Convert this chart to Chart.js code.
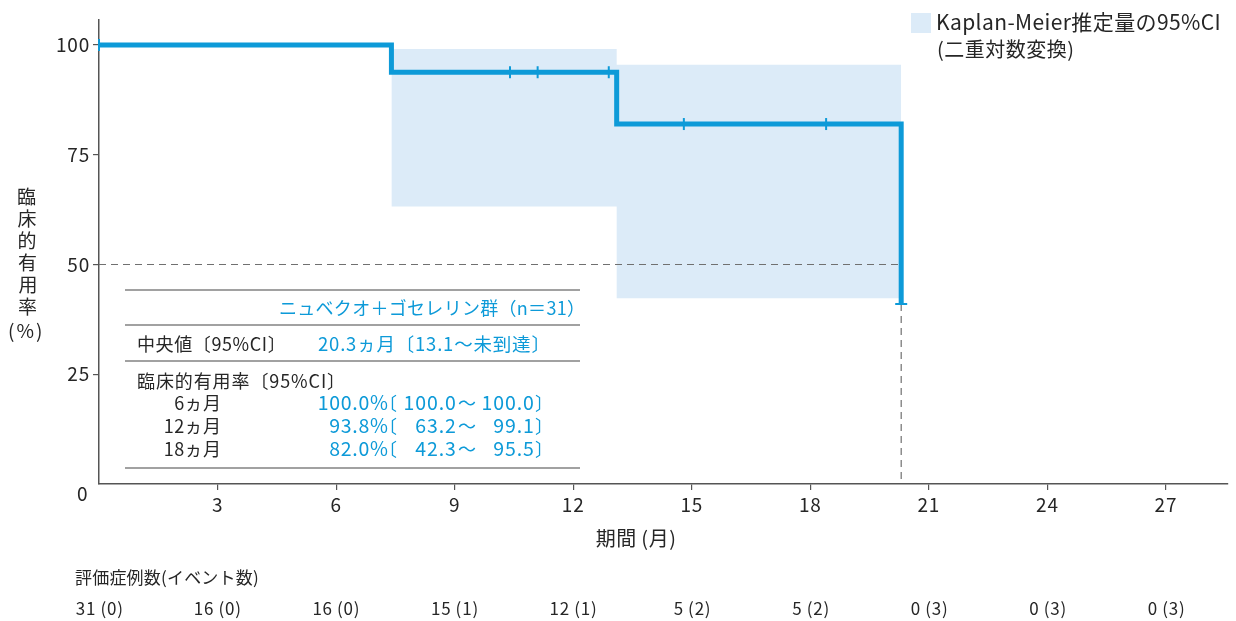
<!DOCTYPE html>
<html>
<head>
<meta charset="utf-8">
<script src="https://cdn.jsdelivr.net/npm/chart.js@4.4.1/dist/chart.umd.min.js"></script>
<style>
  html, body { margin: 0; padding: 0; background: #ffffff; }
  #wrap { width: 1236px; height: 621px; position: relative; }
  canvas { display: block; }
</style>
</head>
<body>
<div id="wrap"><canvas id="c" width="1236" height="621"></canvas></div>
<script>
// Kaplan-Meier estimate (step function, months / %)
const kmTimes = [0, 7.4, 13.1, 20.3];
const kmValues = [100, 93.8, 82.0, 41.0];

// Censored observations
const censorTimes = [0, 10.4, 11.1, 12.9, 14.8, 18.4, 20.3];
const censorValues = [100, 93.8, 93.8, 93.8, 82.0, 82.0, 41.0];

// 95% CI band (log-log transform)
const ciTimes = [7.4, 13.1, 20.3];
const ciUpper = [99.1, 95.5, 95.5];
const ciLower = [63.2, 42.3, 42.3];

// Median reference
const medianTime = 20.3;
const medianLevel = 50;

// Axes
const xTickValues = [3, 6, 9, 12, 15, 18, 21, 24, 27];
const yTickValues = [25, 50, 75, 100];

// Number at risk (events)
const atRiskTimes = [0, 3, 6, 9, 12, 15, 18, 21, 24, 27];
const atRiskLabels = ['31\u2009(0)', '16\u2009(0)', '16\u2009(0)', '15\u2009(1)', '12\u2009(1)', '5\u2009(2)', '5\u2009(2)', '0\u2009(3)', '0\u2009(3)', '0\u2009(3)'];

// Summary table
const groupLabel = 'ニュベクオ＋ゴセレリン群（n＝31）';
const medianLabel = '中央値〔95%CI〕';
const medianText = '20.3ヵ月〔13.1〜未到達〕';
const rateHeader = '臨床的有用率〔95%CI〕';
const rateLabels = ['6ヵ月', '12ヵ月', '18ヵ月'];
const ratePct = ['100.0%', '93.8%', '82.0%'];
const rateLow = ['100.0', '63.2', '42.3'];
const rateHigh = ['100.0', '99.1', '95.5'];

const BLUE = '#0d9ad8';
const BAND = '#dcebf8';
const TEXT = '#262626';
const AXIS = '#555555';
const FAMILY = '"Noto Sans CJK JP", "Noto Sans", sans-serif';
const font = (size) => size + 'px ' + FAMILY;

const pts = (xs, ys) => xs.map((x, i) => ({ x: x, y: ys[i] }));

// draw text positioned by its ink box rather than its advance box
function inkText(ctx, text, x, y, align, spacing) {
  ctx.letterSpacing = (spacing || 0) + 'px';
  ctx.textAlign = 'left';
  const m = ctx.measureText(text);
  const left = -m.actualBoundingBoxLeft;
  const right = m.actualBoundingBoxRight;
  let x0;
  if (align === 'right') x0 = x - right;
  else if (align === 'center') x0 = x - (left + right) / 2;
  else x0 = x - left;
  ctx.fillText(text, x0, y);
  ctx.letterSpacing = '0px';
}

const textSpacing = {
  id: 'textSpacing',
  beforeDraw(chart) { chart.ctx.letterSpacing = '0.8px'; },
  afterDraw(chart) { chart.ctx.letterSpacing = '0px'; }
};

const overlay = {
  id: 'overlay',
  afterDraw(chart) {
    const ctx = chart.ctx;
    const xs = chart.scales.x;
    ctx.save();
    ctx.textBaseline = 'middle';

    // corner zero label
    ctx.fillStyle = TEXT;
    ctx.font = font(19);
    inkText(ctx, '0', 82, 494, 'center');

    // y-axis title, stacked vertically
    ctx.font = font(19);
    const yChars = ['臨', '床', '的', '有', '用', '率'];
    yChars.forEach((ch, i) => inkText(ctx, ch, 27, 197 + i * 22, 'center'));
    inkText(ctx, '(%)', 25, 331, 'center', 2);

    // x-axis title
    ctx.font = font(20);
    inkText(ctx, '期間\u2009(月)', 635, 538, 'center', 0.5);

    // legend
    ctx.fillStyle = BAND;
    ctx.fillRect(911, 13, 20, 20);
    ctx.fillStyle = TEXT;
    ctx.font = font(21);
    inkText(ctx, 'Kaplan-Meier推定量の95%CI', 938, 22, 'left', 0.4);
    ctx.font = font(20);
    inkText(ctx, '(二重対数変換)', 938, 49, 'left', 0.5);

    // summary table rules
    ctx.strokeStyle = '#444';
    ctx.lineWidth = 1.2;
    [290, 325, 361, 468].forEach(yy => {
      ctx.beginPath();
      ctx.moveTo(125, yy);
      ctx.lineTo(580, yy);
      ctx.stroke();
    });

    ctx.font = font(18);
    ctx.fillStyle = BLUE;
    inkText(ctx, groupLabel, 573, 308, 'right', 0.3);

    ctx.fillStyle = TEXT;
    inkText(ctx, medianLabel, 138, 344, 'left', 0.6);
    ctx.fillStyle = BLUE;
    ctx.font = font(18.5);
    inkText(ctx, medianText, 318, 344, 'left', 0.8);

    ctx.fillStyle = TEXT;
    ctx.font = font(18);
    inkText(ctx, rateHeader, 138, 381, 'left', 0.9);
    const rowY = [403, 426, 449];
    rateLabels.forEach((lab, i) => {
      ctx.fillStyle = TEXT;
      ctx.font = font(18);
      inkText(ctx, lab, 218, rowY[i], 'right', 0.4);
      ctx.fillStyle = BLUE;
      ctx.font = font(19.5);
      inkText(ctx, ratePct[i], 388, rowY[i], 'right', 0.7);
      ctx.font = font(18);
      inkText(ctx, '〔', 391, rowY[i], 'left');
      ctx.font = font(19.5);
      inkText(ctx, rateLow[i], 455, rowY[i], 'right', 0.9);
      ctx.font = font(18);
      inkText(ctx, '〜', 458, rowY[i], 'left');
      ctx.font = font(19.5);
      inkText(ctx, rateHigh[i], 533, rowY[i], 'right', 0.9);
      ctx.font = font(18);
      inkText(ctx, '〕', 535, rowY[i], 'left');
    });

    // number at risk
    ctx.fillStyle = TEXT;
    ctx.font = font(17);
    inkText(ctx, '評価症例数(イベント数)', 75, 578, 'left', 0.2);
    atRiskTimes.forEach((t, i) => {
      inkText(ctx, atRiskLabels[i], xs.getPixelForValue(t), 609, 'center', 0.8);
    });
    ctx.restore();
  }
};

new Chart(document.getElementById('c'), {
  type: 'line',
  data: {
    datasets: [
      {
        label: 'censor',
        data: pts(censorTimes, censorValues),
        showLine: false,
        pointStyle: 'line',
        pointRadius: 6,
        pointRotation: censorTimes.map((t, i) => (i === censorTimes.length - 1 ? 0 : 90)),
        pointBorderWidth: 2,
        pointBorderColor: BLUE,
        pointBackgroundColor: BLUE,
        clip: false,
        order: 0
      },
      {
        label: 'km',
        data: pts(kmTimes, kmValues),
        stepped: 'before',
        borderColor: BLUE,
        borderWidth: 5,
        borderJoinStyle: 'miter',
        borderCapStyle: 'butt',
        pointRadius: 0,
        fill: false,
        clip: false,
        order: 1
      },
      {
        label: 'median-h',
        data: [{ x: 0, y: medianLevel }, { x: medianTime, y: medianLevel }],
        borderColor: '#707070',
        borderWidth: 1.2,
        borderDash: [7, 5],
        pointRadius: 0,
        fill: false,
        order: 2
      },
      {
        label: 'median-v',
        data: [{ x: medianTime, y: kmValues[kmValues.length - 1] }, { x: medianTime, y: 0 }],
        borderColor: '#707070',
        borderWidth: 1.2,
        borderDash: [7, 5],
        pointRadius: 0,
        fill: false,
        order: 2
      },
      {
        label: 'ci-upper',
        data: pts(ciTimes, ciUpper),
        stepped: 'before',
        borderWidth: 0,
        borderColor: 'rgba(0,0,0,0)',
        pointRadius: 0,
        fill: false,
        order: 4
      },
      {
        label: 'ci-lower',
        data: pts(ciTimes, ciLower),
        stepped: 'before',
        borderWidth: 0,
        borderColor: 'rgba(0,0,0,0)',
        backgroundColor: BAND,
        pointRadius: 0,
        fill: '-1',
        order: 3
      }
    ]
  },
  options: {
    responsive: false,
    animation: false,
    devicePixelRatio: 1,
    layout: { padding: { top: 20, right: 8, left: 0, bottom: 0 } },
    plugins: {
      legend: { display: false },
      tooltip: { enabled: false },
      filler: { propagate: false }
    },
    scales: {
      x: {
        type: 'linear',
        min: 0,
        max: 28.57,
        afterBuildTicks: s => { s.ticks = xTickValues.map(v => ({ value: v })); },
        afterFit: s => { s.height = 137; },
        grid: { drawOnChartArea: false, drawTicks: true, tickLength: 6, color: AXIS, lineWidth: 1.2 },
        border: { color: AXIS, width: 1.5 },
        ticks: { color: TEXT, font: { family: FAMILY, size: 19 }, padding: 3, maxRotation: 0, autoSkip: false }
      },
      y: {
        min: 0,
        max: 105.7,
        afterBuildTicks: s => { s.ticks = yTickValues.map(v => ({ value: v })); },
        afterFit: s => { s.width = 99; },
        grid: { drawOnChartArea: false, drawTicks: true, tickLength: 6, color: AXIS, lineWidth: 1.2 },
        border: { color: AXIS, width: 1.5 },
        ticks: { color: TEXT, font: { family: FAMILY, size: 19 }, padding: 3 }
      }
    }
  },
  plugins: [textSpacing, overlay]
});
</script>
</body>
</html>
